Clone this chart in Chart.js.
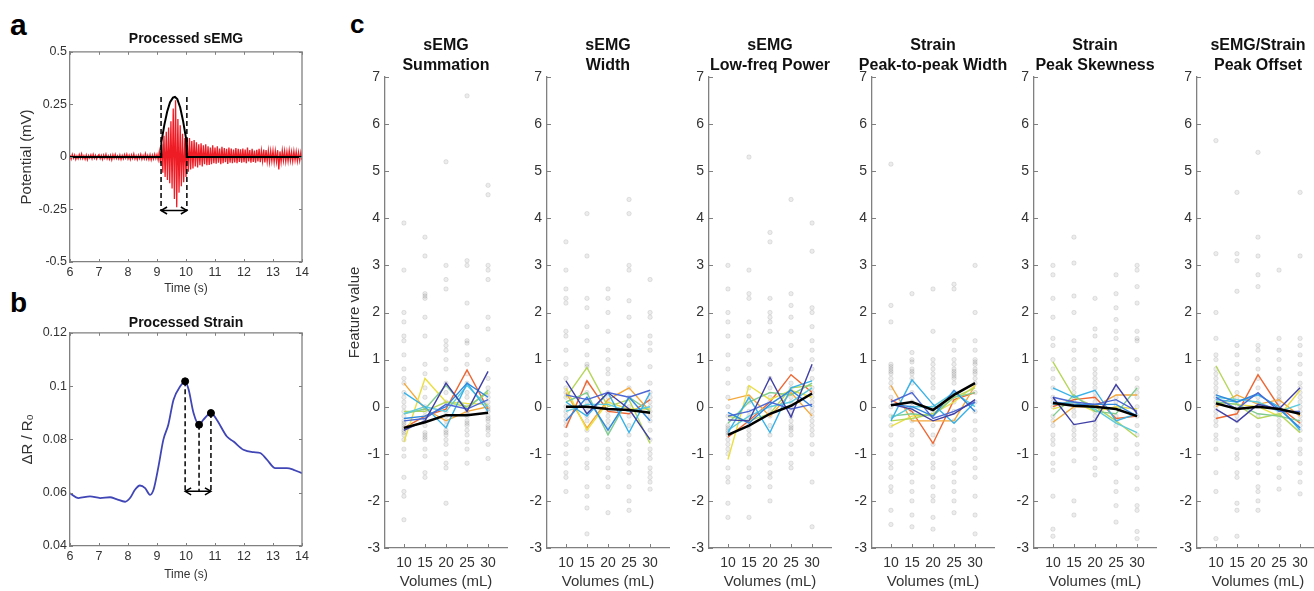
<!DOCTYPE html>
<html>
<head>
<meta charset="utf-8">
<script src="https://cdn.jsdelivr.net/npm/chart.js@4.4.1/dist/chart.umd.min.js"></script>
<style>
  html, body { margin: 0; padding: 0; background: #fff; width: 1314px; height: 591px; overflow: hidden; position: relative; }
  canvas { position: absolute; }
  .tag { position: absolute; font-family: "Liberation Sans", Arial, sans-serif; font-weight: bold; line-height: 1; color: #000; }
</style>
</head>
<body>
<div class="tag" style="left:10px;top:10px;font-size:30px">a</div>
<div class="tag" style="left:10px;top:289px;font-size:28px">b</div>
<div class="tag" style="left:350px;top:11px;font-size:26px">c</div>

<canvas id="chart-a" width="320" height="300" style="left:0;top:0"></canvas>
<canvas id="chart-b" width="320" height="301" style="left:0;top:290px"></canvas>
<canvas id="chart-c1" width="232" height="596" style="left:330px;top:0"></canvas>
<canvas id="chart-c2" width="232" height="596" style="left:492px;top:0"></canvas>
<canvas id="chart-c3" width="232" height="596" style="left:654px;top:0"></canvas>
<canvas id="chart-c4" width="232" height="596" style="left:817px;top:0"></canvas>
<canvas id="chart-c5" width="232" height="596" style="left:979px;top:0"></canvas>
<canvas id="chart-c6" width="232" height="596" style="left:1142px;top:0"></canvas>

<script>
const FONT = '"Liberation Sans", Arial, Helvetica, sans-serif'
const AXIS_COLOR = '#808080'
const TEXT_COLOR = '#333333'

// ---- panel a: processed sEMG ----
const TIME_TICKS = [6, 7, 8, 9, 10, 11, 12, 13, 14]
const SEMG_TICKS = [-0.5, -0.25, 0, 0.25, 0.5]
const SEMG_T0 = 6
const SEMG_DT = 0.04
// potential in uV, one sample every 40 ms from 6 s
const SEMG_UV = [
  8,-10,12,-6,9,-12,5,-9,11,-7,14,-8,6,-11,9,-13,7,-5,10,-9,12,-6,8,-10,5,
  11,-8,7,-12,9,-6,13,-9,6,-11,8,-14,10,-7,12,-8,5,-10,9,-12,7,-9,11,-6,13,
  -9,8,-12,10,-7,14,-10,6,-13,9,-8,12,-11,7,-9,15,-10,8,-12,11,-14,9,-10,13,-8,
  12,-14,25,-30,60,-75,100,-95,120,-110,140,-125,170,-150,230,-200,270,-240,180,-170,150,-140,110,-120,90,
  -95,85,-70,90,-60,75,-55,80,-45,70,-50,60,-40,65,-45,55,-35,60,-40,50,-38,45,-35,55,-30,
  45,-32,50,-28,40,-35,48,-30,42,-25,38,-33,45,-28,40,-30,35,-26,42,-30,38,-24,36,-28,40,
  -25,35,-30,45,-22,32,-28,38,-24,30,-27,34,-22,38,-25,30,-20,35,-26,32,-22,30,-25,28,-20,
  30,-25,28,-22,32,-60,26,-24,30,-18,28,-22,25,-20,30,-18,24,-21,27,-16,25,-20,22,-18,20,
  -15
]
const ENV_T = [6, 9.14, 9.15, 9.25, 9.35, 9.45, 9.55, 9.62, 9.7, 9.8, 9.9, 10.0, 10.02, 10.03, 14]
const ENV_V = [0, 0, 0.07, 0.15, 0.215, 0.26, 0.282, 0.285, 0.275, 0.235, 0.17, 0.09, 0.05, 0, 0]
const SEMG_WIN_T = [9.14, 10.03]
const SEMG_WIN_V = [0.285, -0.255]

// ---- panel b: processed strain ----
const STRAIN_TICKS = [0.04, 0.06, 0.08, 0.1, 0.12]
const STRAIN_T = [6.0,6.29,6.69,7.04,7.38,7.6,7.9,8.07,8.24,8.41,8.59,8.76,8.88,9.05,9.22,9.39,9.57,9.8,9.97,
  10.09,10.26,10.45,10.6,10.86,11.06,11.41,11.64,11.98,12.33,12.56,12.79,13.08,13.48,13.71,14.0]
const STRAIN_V = [0.0598,0.058,0.0586,0.058,0.0583,0.0576,0.0566,0.058,0.0611,0.0627,0.0617,0.0592,0.0611,0.0698,
  0.0799,0.0855,0.0949,0.0999,0.1018,0.0987,0.0899,0.0855,0.0874,0.0899,0.0874,0.0811,0.0792,0.0761,0.0752,
  0.0749,0.0724,0.0692,0.0692,0.0686,0.0673]
const PEAK_T = [9.97, 10.45, 10.86]
const PEAK_V = [0.1018, 0.0855, 0.0899]
const PEAK_BASE = 0.0605

// ---- panel c: features vs volume ----
const VOLUMES = [10, 15, 20, 25, 30]
const FEATURE_TICKS = [-3, -2, -1, 0, 1, 2, 3, 4, 5, 6, 7]
const LINE_COLORS = ['#3f3fa6', '#4d68d4', '#2f88de', '#38b2e8', '#5ccbdc', '#80cc8e', '#b6d65a', '#ebdf45', '#f5a83a', '#ee6733']

const SUM_TITLE = ['sEMG', 'Summation']
const SUM_DOTS = [
  [3.9,2.9,2.0,1.8,1.5,1.4,1.1,0.8,0.6,0.5,0.3,0.2,0.1,0.0,-0.1,-0.2,-0.3,-0.4,-0.5,-0.6,-0.7,-0.9,-1.05,-1.5,-1.8,-1.9,-2.4,-0.45,-0.55,-0.35],
  [3.6,3.2,2.4,2.35,2.3,1.9,1.5,0.9,0.7,0.4,0.2,0.0,-0.1,-0.2,-0.3,-0.4,-0.6,-0.65,-0.7,-0.9,-1.05,-1.4,-1.5,-0.55,-0.25],
  [5.2,3.0,2.7,2.5,1.4,1.3,1.2,1.0,0.8,0.5,0.3,0.1,-0.1,-0.2,-0.4,-0.5,-0.6,-0.7,-0.8,-1.0,-1.2,-1.3,-2.05,-0.3,-0.55],
  [6.6,3.1,3.0,2.2,1.7,1.4,1.35,1.1,0.9,0.7,0.5,0.3,0.2,0.0,-0.1,-0.2,-0.3,-0.4,-0.5,-0.6,-0.75,-0.9,-1.2,-0.15,-0.35],
  [4.7,4.5,3.0,2.9,2.7,1.9,1.65,1.0,0.6,0.4,0.3,0.2,0.1,0.0,-0.1,-0.2,-0.3,-0.4,-0.5,-0.6,-0.8,-1.1,-0.05,-0.25,-0.45]
]
const SUM_LINES = [
  [-0.5,-0.3,0.5,-0.1,0.75],
  [-0.3,-0.25,0.05,-0.05,0.15],
  [-0.25,-0.2,0.0,0.5,0.2],
  [0.3,0.0,-0.45,0.5,-0.1],
  [-0.15,0.0,-0.1,0.45,0.0],
  [-0.15,-0.05,0.45,-0.05,0.35],
  [-0.1,-0.1,0.1,0.0,0.3],
  [-0.75,0.6,0.1,0.07,0.05],
  [0.5,-0.05,-0.3,-0.1,0.0],
  [-0.45,-0.2,-0.05,0.78,-0.05]
]
const SUM_MEAN = [-0.45,-0.33,-0.18,-0.18,-0.13]

const WIDTH_TITLE = ['sEMG', 'Width']
const WIDTH_DOTS = [
  [3.5,2.9,2.5,2.3,2.2,1.6,1.5,1.2,0.9,0.6,0.4,0.2,0.0,-0.2,-0.4,-0.6,-0.8,-1.0,-1.2,-1.4,-1.5,-1.8,-0.3,-0.1,0.3],
  [4.1,3.2,2.3,2.1,1.7,1.4,1.1,0.9,0.85,0.5,0.3,0.1,-0.1,-0.3,-0.5,-0.7,-0.9,-1.2,-1.3,-1.7,-1.9,-2.15,-2.7,0.0,-0.2],
  [2.5,2.3,2.0,1.6,1.2,1.0,0.8,0.7,0.5,0.3,0.1,-0.1,-0.3,-0.5,-0.7,-0.9,-1.0,-1.1,-1.3,-1.5,-1.7,-2.25,0.2,-0.2,-0.4],
  [4.4,4.1,3.0,2.9,2.25,1.9,1.5,1.3,1.1,0.9,0.6,0.4,0.2,0.0,-0.2,-0.4,-0.6,-0.8,-0.95,-1.1,-1.2,-1.4,-1.7,-2.0,-2.2],
  [2.7,2.0,1.9,1.5,1.35,1.2,0.85,0.5,0.3,0.1,-0.1,-0.3,-0.5,-0.7,-0.9,-1.0,-1.1,-1.3,-1.4,-1.5,-1.6,-1.75,0.0,-0.2,0.2]
]
const WIDTH_LINES = [
  [0.55,-0.15,0.3,-0.05,-0.7],
  [0.25,0.15,0.3,0.2,0.35],
  [-0.3,0.2,-0.5,0.2,-0.3],
  [0.1,-0.2,0.3,-0.55,0.3],
  [-0.1,0.05,0.05,-0.1,0.0],
  [0.1,0.3,-0.6,0.2,-0.1],
  [0.2,0.83,0.0,0.15,-0.78],
  [0.4,-0.5,0.1,-0.05,-0.05],
  [0.3,-0.45,0.15,0.4,-0.1],
  [-0.45,0.55,-0.1,-0.15,0.15]
]
const WIDTH_MEAN = [0.0,0.0,-0.05,-0.07,-0.13]

const LOWFREQ_TITLE = ['sEMG', 'Low-freq Power']
const LOWFREQ_DOTS = [
  [3.0,2.5,2.0,1.8,1.5,1.1,0.8,0.5,0.2,0.0,-0.2,-0.4,-0.5,-0.6,-0.7,-0.8,-0.9,-1.0,-1.3,-1.5,-1.6,-2.05,-2.35,-0.55,-0.45],
  [5.3,2.9,2.4,2.3,1.8,1.5,1.2,0.9,0.6,0.4,0.1,-0.1,-0.3,-0.5,-0.6,-0.7,-0.9,-1.0,-1.3,-1.5,-1.7,-2.35,-0.4,-0.2,0.2],
  [3.7,3.5,2.3,2.0,1.9,1.8,1.6,1.2,0.9,0.6,0.4,0.2,0.0,-0.2,-0.4,-0.6,-0.8,-1.0,-1.2,-1.4,-1.5,-1.7,-2.0,-0.1,0.1],
  [4.4,2.4,2.15,1.9,1.6,1.3,1.0,0.8,0.5,0.3,0.1,-0.1,-0.2,-0.3,-0.4,-0.5,-0.6,-0.8,-1.0,-1.2,-1.3,0.0,0.2,-0.45,0.4],
  [3.9,3.3,2.1,2.0,1.7,1.4,1.2,1.0,0.8,0.6,0.4,0.2,0.0,-0.2,-0.3,-0.4,-0.5,-0.6,-0.8,-1.0,-1.6,-2.55,0.3,0.1,-0.1]
]
const LOWFREQ_LINES = [
  [-0.28,-0.3,0.62,-0.22,0.9],
  [-0.2,-0.1,0.1,-0.05,0.05],
  [-0.12,-0.35,0.05,0.35,0.0],
  [-0.55,0.2,-0.55,0.4,0.55],
  [-0.5,-0.2,0.0,0.1,0.4],
  [-0.35,0.1,0.3,0.25,0.5],
  [-0.2,-0.3,-0.15,0.4,0.45],
  [-1.12,0.45,0.15,0.35,0.2],
  [0.14,0.25,-0.2,0.3,-0.2],
  [-0.65,-0.3,0.1,0.68,0.3]
]
const LOWFREQ_MEAN = [-0.6,-0.4,-0.15,0.02,0.28]

const P2P_TITLE = ['Strain', 'Peak-to-peak Width']
const P2P_DOTS = [
  [5.15,2.15,1.8,0.9,0.85,0.8,0.75,0.7,0.6,0.5,0.4,0.2,0.0,-0.2,-0.4,-0.6,-0.8,-1.0,-1.2,-1.3,-1.5,-1.7,-1.8,-2.2,-2.5],
  [2.4,1.15,1.0,0.95,0.8,0.75,0.7,0.6,0.5,0.3,0.1,-0.1,-0.3,-0.5,-0.6,-0.8,-1.0,-1.2,-1.4,-1.6,-1.8,-2.0,-2.3,-2.55,0.0],
  [2.5,1.6,1.0,0.9,0.8,0.7,0.6,0.4,0.2,0.0,-0.2,-0.4,-0.6,-0.8,-1.0,-1.2,-1.3,-1.5,-1.7,-1.9,-2.0,-2.35,-2.6,0.5,-0.1],
  [2.6,2.5,1.4,1.2,1.0,0.9,0.8,0.7,0.6,0.5,0.3,0.1,-0.1,-0.3,-0.5,-0.7,-0.9,-1.2,-1.4,-1.6,-1.8,-2.0,-2.25,0.75,0.65],
  [3.0,2.0,1.4,1.2,1.0,0.95,0.9,0.8,0.75,0.7,0.5,0.3,0.1,-0.1,-0.3,-0.5,-0.7,-0.9,-1.1,-1.3,-1.5,-1.9,-2.3,-2.7,0.6]
]
const P2P_LINES = [
  [0.05,-0.05,-0.3,-0.15,0.15],
  [0.1,0.3,-0.25,-0.1,0.1],
  [0.05,0.0,-0.2,0.35,-0.1],
  [-0.3,0.57,0.05,-0.35,0.1],
  [-0.25,0.0,0.0,0.3,0.0],
  [-0.2,-0.15,-0.2,0.2,0.3],
  [-0.3,-0.25,-0.15,0.2,0.4],
  [-0.42,-0.2,-0.15,0.1,0.45],
  [0.45,-0.3,-0.3,-0.3,0.45],
  [0.15,-0.1,-0.78,0.15,0.3]
]
const P2P_MEAN = [0.03,0.1,-0.07,0.25,0.5]

const SKEW_TITLE = ['Strain', 'Peak Skewness']
const SKEW_DOTS = [
  [3.0,2.8,2.3,1.9,1.45,1.3,1.0,0.8,0.6,0.4,0.2,0.0,-0.2,-0.4,-0.6,-0.7,-0.8,-1.0,-1.2,-1.35,-1.9,-2.6,-2.75,0.1,-0.3],
  [3.6,3.05,2.35,2.0,1.4,1.2,1.0,0.8,0.6,0.4,0.3,0.2,0.0,-0.2,-0.4,-0.6,-0.7,-0.9,-1.15,-2.0,-2.3,0.1,-0.1,0.5,-0.5],
  [2.3,1.65,1.5,1.2,1.0,0.8,0.7,0.5,0.3,0.2,0.1,0.0,-0.1,-0.2,-0.4,-0.6,-0.7,-0.9,-1.1,-1.3,-1.45,0.4,-0.3,0.6,-0.5],
  [2.8,2.4,2.1,1.85,1.6,1.45,1.2,1.0,0.8,0.6,0.4,0.2,0.0,-0.2,-0.4,-0.6,-0.7,-0.9,-1.2,-1.6,-1.8,-2.1,-2.45,-0.3,0.1],
  [3.0,2.9,2.55,2.2,1.6,1.45,1.4,1.0,0.6,0.4,0.2,0.0,-0.2,-0.4,-0.6,-0.8,-1.0,-1.3,-1.5,-1.75,-2.1,-2.2,-2.65,-2.8,0.3]
]
const SKEW_LINES = [
  [0.2,-0.38,-0.3,0.47,-0.15],
  [0.2,0.1,0.05,0.15,-0.1],
  [0.1,0.05,0.05,0.05,-0.2],
  [0.4,0.2,0.35,-0.3,-0.15],
  [0.05,0.1,-0.05,-0.35,-0.55],
  [-0.2,0.25,-0.1,-0.15,0.4],
  [0.95,0.2,0.0,-0.3,-0.65],
  [-0.05,0.1,-0.1,0.0,-0.05],
  [-0.33,0.0,0.0,0.25,0.25],
  [0.0,0.15,0.2,-0.25,-0.2]
]
const SKEW_MEAN = [0.08,0.02,0.0,-0.05,-0.2]

const OFFSET_TITLE = ['sEMG/Strain', 'Peak Offset']
const OFFSET_DOTS = [
  [5.65,3.25,2.0,1.45,1.1,1.0,0.8,0.6,0.5,0.4,0.2,0.0,-0.2,-0.4,-0.6,-0.7,-0.9,-1.4,-1.8,-2.8,0.3,0.1,-0.1,-0.3,0.7],
  [4.55,3.25,3.1,2.45,1.3,1.1,0.9,0.7,0.5,0.3,0.1,-0.1,-0.3,-0.5,-0.7,-1.0,-1.1,-1.4,-1.5,-2.05,-2.2,-2.75,0.2,0.0,-0.2],
  [5.4,3.6,3.2,2.8,2.55,1.3,1.2,1.0,0.8,0.6,0.4,0.2,0.0,-0.2,-0.4,-0.6,-0.8,-1.0,-1.2,-1.4,-1.7,-1.8,-2.0,-2.2,0.1],
  [2.9,1.45,1.2,1.0,0.8,0.6,0.4,0.2,0.1,0.0,-0.1,-0.2,-0.4,-0.5,-0.6,-0.8,-1.0,-1.3,-1.5,-1.75,0.3,-0.3,0.5,-0.05,0.15],
  [4.55,3.2,1.45,1.3,1.1,0.9,0.7,0.5,0.3,0.1,-0.1,-0.3,-0.5,-0.7,-0.9,-1.0,-1.2,-1.4,-1.6,-1.85,0.2,0.0,-0.2,0.4,-0.4]
]
const OFFSET_LINES = [
  [-0.05,-0.32,0.05,-0.05,0.4],
  [0.2,-0.05,0.3,-0.1,-0.1],
  [0.25,0.1,0.28,-0.05,-0.45],
  [0.15,0.1,0.25,0.0,-0.5],
  [0.2,0.15,0.1,-0.1,0.05],
  [0.1,0.05,-0.15,-0.2,-0.3],
  [0.87,0.05,-0.25,-0.15,-0.55],
  [0.1,0.05,0.0,-0.2,0.35],
  [0.0,0.25,0.05,0.15,-0.2],
  [-0.25,-0.15,0.68,0.0,-0.35]
]
const OFFSET_MEAN = [0.07,-0.05,0.0,-0.05,-0.15]

// inward MATLAB-like ticks (and box for a/b)
const matlabAxes = {
  id: 'matlab',
  afterDraw(chart, args, opts) {
    const {ctx, chartArea: a, scales: {x, y}} = chart
    const len = opts.len
    ctx.save()
    ctx.strokeStyle = AXIS_COLOR
    ctx.lineWidth = 1
    ctx.beginPath()
    x.ticks.forEach(t => {
      const px = Math.round(x.getPixelForValue(t.value)) + 0.5
      ctx.moveTo(px, a.bottom); ctx.lineTo(px, a.bottom - len)
      if (opts.box) { ctx.moveTo(px, a.top); ctx.lineTo(px, a.top + len) }
    })
    y.ticks.forEach(t => {
      const py = Math.round(y.getPixelForValue(t.value)) + 0.5
      ctx.moveTo(a.left, py); ctx.lineTo(a.left + len, py)
      if (opts.box) { ctx.moveTo(a.right, py); ctx.lineTo(a.right - len, py) }
    })
    ctx.stroke()
    if (opts.box) {
      ctx.lineWidth = 1.3
      ctx.beginPath()
      ctx.moveTo(a.left, a.top); ctx.lineTo(a.right, a.top); ctx.lineTo(a.right, a.bottom)
      ctx.stroke()
    }
    ctx.restore()
  }
}

// double-headed arrows on datasets flagged with arrows: true
const arrowHeads = {
  id: 'arrowHeads',
  afterDatasetsDraw(chart) {
    const ctx = chart.ctx
    chart.data.datasets.forEach((ds, i) => {
      if (!ds.arrows) return
      const pts = chart.getDatasetMeta(i).data
      const p0 = pts[0], p1 = pts[pts.length - 1]
      ctx.save()
      ctx.strokeStyle = ds.borderColor
      ctx.lineWidth = 1.5
      const head = (tip, dir) => {
        ctx.beginPath()
        ctx.moveTo(tip.x - dir * 6, tip.y - 3.5)
        ctx.lineTo(tip.x, tip.y)
        ctx.lineTo(tip.x - dir * 6, tip.y + 3.5)
        ctx.stroke()
      }
      head(p0, -1)
      head(p1, 1)
      ctx.restore()
    })
  }
}

const pts = (xs, ys) => xs.map((v, i) => ({x: v, y: ys[i]}))

function axisOpts(ticks, size, fit, extra) {
  return Object.assign({
    type: 'linear',
    min: ticks[0],
    max: ticks[ticks.length - 1],
    afterBuildTicks: s => { s.ticks = ticks.map(v => ({value: v})) },
    grid: {display: false, drawTicks: false},
    border: {display: true, color: AXIS_COLOR, width: 1.3},
    ticks: {color: TEXT_COLOR, font: {family: FONT, size: size}, autoSkip: false, maxRotation: 0, callback: v => String(v)}
  }, fit, extra)
}

const baseOpts = {responsive: false, animation: false, events: []}

// panel a
const semgPts = SEMG_UV.map((v, i) => ({x: SEMG_T0 + i * SEMG_DT, y: v / 1000}))
new Chart(document.getElementById('chart-a'), {
  type: 'scatter',
  data: {datasets: [
    {data: pts(ENV_T, ENV_V), showLine: true, borderColor: '#000', borderWidth: 2, pointRadius: 0, order: 0},
    {data: pts([SEMG_WIN_T[0], SEMG_WIN_T[0]], SEMG_WIN_V), showLine: true, borderColor: '#000', borderWidth: 1.5, borderDash: [5, 3], pointRadius: 0, order: 0},
    {data: pts([SEMG_WIN_T[1], SEMG_WIN_T[1]], SEMG_WIN_V), showLine: true, borderColor: '#000', borderWidth: 1.5, borderDash: [5, 3], pointRadius: 0, order: 0},
    {data: pts(SEMG_WIN_T, [SEMG_WIN_V[1], SEMG_WIN_V[1]]), showLine: true, arrows: true, borderColor: '#000', borderWidth: 1.5, pointRadius: 0, order: 0},
    {data: semgPts, showLine: true, borderColor: '#ee1c25', borderWidth: 1.3, pointRadius: 0, order: 1}
  ]},
  options: Object.assign({}, baseOpts, {
    layout: {padding: {left: 0, right: 18, top: 0, bottom: 0}},
    plugins: {
      legend: {display: false}, tooltip: {enabled: false},
      title: {display: true, fullSize: false, text: 'Processed sEMG', color: '#111', font: {family: FONT, size: 14, weight: 'bold', lineHeight: 1.2}, padding: {top: 31, bottom: 4}},
      matlab: {box: true, len: 3}
    },
    scales: {
      x: axisOpts(TIME_TICKS, 12.5, {afterFit: s => { s.height = 38 }}, {
        title: {display: true, text: 'Time (s)', color: TEXT_COLOR, font: {family: FONT, size: 12}, padding: {top: 0, bottom: 4}}
      }),
      y: axisOpts(SEMG_TICKS, 12.5, {afterFit: s => { s.width = 70 }}, {
        title: {display: true, text: 'Potential (mV)', color: TEXT_COLOR, font: {family: FONT, size: 15}, padding: {top: 18, bottom: 0}}
      })
    }
  }),
  plugins: [matlabAxes, arrowHeads]
})

// panel b
const peakDrops = PEAK_T.map((t, k) => ({
  data: pts([t, t], [PEAK_V[k], PEAK_BASE]), showLine: true, borderColor: '#000', borderWidth: 1.5, borderDash: [5, 3], pointRadius: 0, order: 1
}))
new Chart(document.getElementById('chart-b'), {
  type: 'scatter',
  data: {datasets: [
    {data: pts(PEAK_T, PEAK_V), pointRadius: 3.5, backgroundColor: '#000', borderColor: '#000', order: 0},
    ...peakDrops,
    {data: pts([PEAK_T[0], PEAK_T[2]], [PEAK_BASE, PEAK_BASE]), showLine: true, arrows: true, borderColor: '#000', borderWidth: 1.5, pointRadius: 0, order: 1},
    {data: pts(STRAIN_T, STRAIN_V), showLine: true, cubicInterpolationMode: 'monotone', borderColor: '#4046b5', borderWidth: 1.8, pointRadius: 0, order: 2}
  ]},
  options: Object.assign({}, baseOpts, {
    layout: {padding: {left: 0, right: 18, top: 0, bottom: 0}},
    plugins: {
      legend: {display: false}, tooltip: {enabled: false},
      title: {display: true, fullSize: false, text: 'Processed Strain', color: '#111', font: {family: FONT, size: 14, weight: 'bold', lineHeight: 1.2}, padding: {top: 25, bottom: 1}},
      matlab: {box: true, len: 3}
    },
    scales: {
      x: axisOpts(TIME_TICKS, 12.5, {afterFit: s => { s.height = 45 }}, {
        title: {display: true, text: 'Time (s)', color: TEXT_COLOR, font: {family: FONT, size: 12}, padding: {top: 0, bottom: 9}}
      }),
      y: axisOpts(STRAIN_TICKS, 12.5, {afterFit: s => { s.width = 70 }}, {
        title: {display: true, text: 'ΔR / R₀', color: TEXT_COLOR, font: {family: FONT, size: 15}, padding: {top: 19, bottom: 0}}
      })
    }
  }),
  plugins: [matlabAxes, arrowHeads]
})

// panel c
function featureChart(id, title, dots, lines, mean, showYTitle) {
  const datasets = [
    {data: pts(VOLUMES, mean), showLine: true, borderColor: '#000', borderWidth: 2.5, pointRadius: 0, order: 0}
  ]
  lines.forEach((l, k) => datasets.push({
    data: pts(VOLUMES, l), showLine: true, borderColor: LINE_COLORS[k], borderWidth: 1.4, pointRadius: 0, order: 1
  }))
  datasets.push({
    data: dots.flatMap((col, j) => col.map(v => ({x: VOLUMES[j], y: v}))),
    pointRadius: 2.2, borderWidth: 0.8,
    backgroundColor: 'rgba(70,70,70,0.10)', borderColor: 'rgba(70,70,70,0.16)', order: 2
  })
  new Chart(document.getElementById(id), {
    type: 'scatter',
    data: {datasets},
    options: Object.assign({}, baseOpts, {
      layout: {padding: 0},
      plugins: {
        legend: {display: false}, tooltip: {enabled: false},
        title: {display: true, text: title, color: '#111', font: {family: FONT, size: 16, weight: 'bold', lineHeight: 1.25}, padding: {top: 36, bottom: 1}},
        matlab: {box: false, len: 4}
      },
      scales: {
        x: axisOpts(VOLUMES, 14, {afterFit: s => { s.height = 48 }}, {
          min: 5.5, max: 34.5,
          ticks: {color: TEXT_COLOR, font: {family: FONT, size: 14}, autoSkip: false, maxRotation: 0, padding: 7},
          title: {display: true, text: 'Volumes (mL)', color: TEXT_COLOR, font: {family: FONT, size: 15}, padding: {top: 0, bottom: 5}}
        }),
        y: axisOpts(FEATURE_TICKS, 14, {afterFit: s => { s.width = 55 }}, {
          ticks: {color: TEXT_COLOR, font: {family: FONT, size: 14}, autoSkip: false, padding: 5},
          title: {display: showYTitle, text: 'Feature value', color: TEXT_COLOR, font: {family: FONT, size: 15}, padding: {top: 16, bottom: 0}}
        }),
        // empty right-hand spacer so the title centres over the plot
        spacer: {
          type: 'linear', position: 'right', display: true,
          grid: {display: false, drawTicks: false}, border: {display: false}, ticks: {display: false},
          afterFit: s => { s.width = 55 }
        }
      }
    }),
    plugins: [matlabAxes]
  })
}

featureChart('chart-c1', SUM_TITLE, SUM_DOTS, SUM_LINES, SUM_MEAN, true)
featureChart('chart-c2', WIDTH_TITLE, WIDTH_DOTS, WIDTH_LINES, WIDTH_MEAN, false)
featureChart('chart-c3', LOWFREQ_TITLE, LOWFREQ_DOTS, LOWFREQ_LINES, LOWFREQ_MEAN, false)
featureChart('chart-c4', P2P_TITLE, P2P_DOTS, P2P_LINES, P2P_MEAN, false)
featureChart('chart-c5', SKEW_TITLE, SKEW_DOTS, SKEW_LINES, SKEW_MEAN, false)
featureChart('chart-c6', OFFSET_TITLE, OFFSET_DOTS, OFFSET_LINES, OFFSET_MEAN, false)
</script>
</body>
</html>
